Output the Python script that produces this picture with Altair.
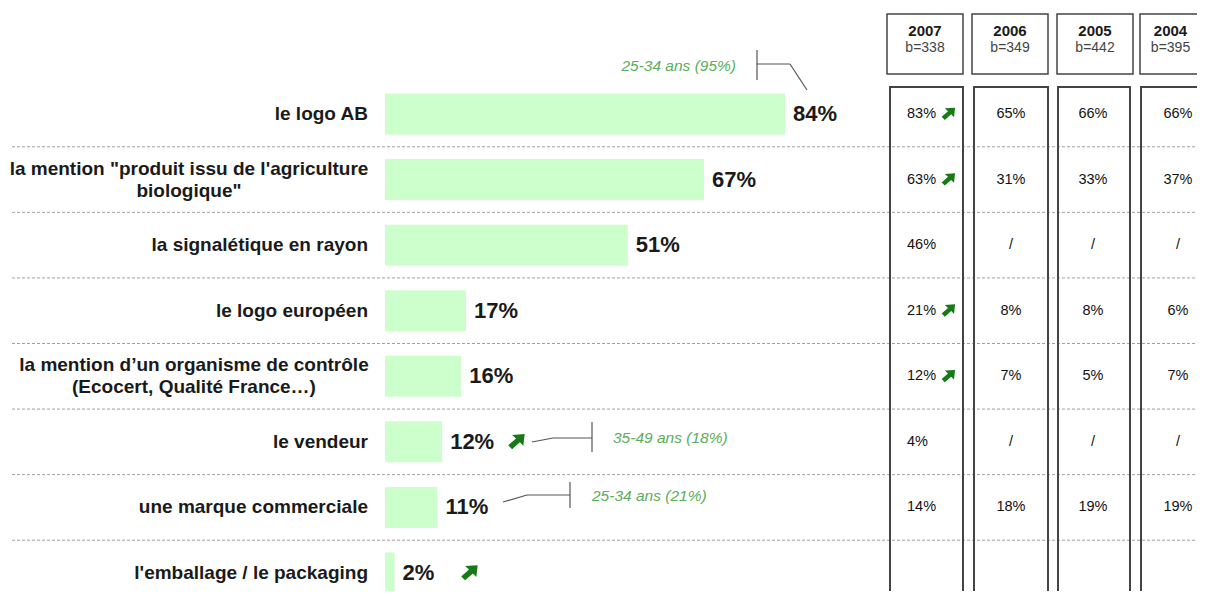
import altair as alt
import pandas as pd

# ---------------- data ----------------
categories = [
    "le logo AB",
    "la mention \"produit issu de l'agriculture\nbiologique\"",
    "la signalétique en rayon",
    "le logo européen",
    "la mention d\u2019un organisme de contrôle\n(Ecocert, Qualité France\u2026)",
    "le vendeur",
    "une marque commerciale",
    "l'emballage / le packaging",
]
values = [84, 67, 51, 17, 16, 12, 11, 2]
left_trend_rows = [5, 7]

years = ["2007", "2006", "2005", "2004"]
bases = ["b=338", "b=349", "b=442", "b=395"]
col_2007 = ["83%", "63%", "46%", "21%", "12%", "4%", "14%", ""]
col_2006 = ["65%", "31%", "/", "8%", "7%", "/", "18%", ""]
col_2005 = ["66%", "33%", "/", "8%", "5%", "/", "19%", ""]
col_2004 = ["66%", "37%", "/", "6%", "7%", "/", "19%", ""]
table_cols = [col_2007, col_2006, col_2005, col_2004]
table_trend_rows = [0, 1, 3, 4]

ann_rows = [0, 5, 6]
ann_texts = ["25-34 ans (95%)", "35-49 ans (18%)", "25-34 ans (21%)"]

# ---------------- layout (page pixels) ----------------
W, H = 1189, 583
X0 = 377            # plot px of 0 %
PPU = 400 / 84      # px per percent
Y0 = 106            # plot px of first row centre
RPU = 65.57         # px per row

def ux(px):
    return (px - 8 - X0) / PPU

def uy(py):
    return (py - 8 - Y0) / RPU

xs = alt.Scale(domain=[-X0 / PPU, (W - X0) / PPU], nice=False, zero=False)
ys = alt.Scale(domain=[-Y0 / RPU, (H - Y0) / RPU], nice=False, zero=False, reverse=True)

def X(f):
    return alt.X(f, type="quantitative", scale=xs, axis=None)

def Y(f):
    return alt.Y(f, type="quantitative", scale=ys, axis=None)

FONT = "Liberation Sans"
ARROW = "M1,-0.9 L0.85,0.45 L0.45,0.05 L-0.45,0.85 L-0.9,0.4 L0.0,-0.4 L-0.45,-0.8 Z"
ARROW_COLOR = "#177a17"
ANN_COLOR = "#5aad5a"
LINE_COLOR = "#555555"

n = len(categories)
bars = pd.DataFrame({
    "row": list(range(n)),
    "zero": [0] * n,
    "value": values,
    "label": [f"{v}%" for v in values],
    "y1": [i - 0.3127 for i in range(n)],
    "y2": [i + 0.3127 for i in range(n)],
})

single = pd.DataFrame({
    "row": [i for i, c in enumerate(categories) if "\n" not in c],
    "text": [c for c in categories if "\n" not in c],
})
single["x"] = 0
multi_centres = {1: 189, 4: 194}
multi = pd.DataFrame({
    "row": list(multi_centres.keys()),
    "text": [categories[i] for i in multi_centres],
    "x": [ux(p) for p in multi_centres.values()],
})

seps = pd.DataFrame({"y": [i + 0.5 for i in range(n - 1)]})
seps["x"] = ux(12)
seps["x2"] = ux(1216)

left_arrows = pd.DataFrame({"row": left_trend_rows, "x": [ux(516), ux(469)]})

# annotation connectors (page pixel segments)
segs_px = [
    (757, 50, 757, 80), (757, 64, 790, 64), (790, 64, 807, 90),
    (532, 442, 553, 438), (553, 438, 592, 438), (592, 422, 592, 452),
    (503, 502, 527, 495), (527, 495, 570, 495), (570, 482, 570, 508),
]
segs = pd.DataFrame({
    "x": [ux(a) for a, b, c, d in segs_px],
    "y": [uy(b) for a, b, c, d in segs_px],
    "x2": [ux(c) for a, b, c, d in segs_px],
    "y2": [uy(d) for a, b, c, d in segs_px],
})
ann = pd.DataFrame({
    "text": ann_texts,
    "x": [ux(736), ux(613), ux(592)],
    "y": [uy(66), uy(438), uy(496)],
    "align": ["right", "left", "left"],
})

head_l = [887, 972, 1057, 1140]
head_r = [963, 1048, 1133, 1216]
body_l = [890, 974, 1058, 1141]
body_r = [963, 1048, 1130, 1216]
heads = pd.DataFrame({
    "x": [ux(p) for p in head_l], "x2": [ux(p) for p in head_r],
    "y": [uy(14)] * 4, "y2": [uy(74)] * 4,
    "year": years, "base": bases,
    "xc": [ux((a + b) / 2) for a, b in zip(head_l, [963, 1048, 1133, 1201])],
    "yy": [uy(31)] * 4, "yb": [uy(48)] * 4,
})
bodies = pd.DataFrame({
    "x": [ux(p) for p in body_l], "x2": [ux(p) for p in body_r],
    "y": [uy(87)] * 4, "y2": [uy(620)] * 4,
})

col_centres = [907, 1011, 1093, 1178]
cells = []
for ci, col in enumerate(table_cols):
    for ri, t in enumerate(col):
        if t:
            cells.append({"x": ux(col_centres[ci]), "row": ri, "text": t,
                          "align": "left" if ci == 0 else "center"})
cells = pd.DataFrame(cells)
table_arrows = pd.DataFrame({"row": table_trend_rows, "x": [ux(948)] * len(table_trend_rows)})

# ---------------- layers ----------------
sep_layer = alt.Chart(seps).mark_rule(color="#a0a0a0", strokeDash=[3, 2], strokeWidth=1, clip=True).encode(
    x=X("x"), x2="x2", y=Y("y"))

bar_layer = alt.Chart(bars).mark_rect(color="#ccffcc").encode(
    x=X("zero"), x2="value", y=Y("y1"), y2="y2")

val_layer = alt.Chart(bars).mark_text(align="left", baseline="middle", dx=8, fontSize=22,
                                      fontWeight="bold", font=FONT, color="#1a1a1a").encode(
    x=X("value"), y=Y("row"), text="label")

lab_single = alt.Chart(single).mark_text(align="right", baseline="middle", dx=-17, fontSize=19,
                                         fontWeight="bold", font=FONT, color="#1a1a1a").encode(
    x=X("x"), y=Y("row"), text="text")

lab_multi = alt.Chart(multi).mark_text(align="center", baseline="middle", fontSize=19, lineBreak="\n",
                                       lineHeight=22, dy=-11, fontWeight="bold", font=FONT,
                                       color="#1a1a1a").encode(
    x=X("x"), y=Y("row"), text="text")

larrow_layer = alt.Chart(left_arrows).mark_point(shape=ARROW, filled=True, size=300, opacity=1,
                                                  color=ARROW_COLOR, strokeWidth=0).encode(
    x=X("x"), y=Y("row"))

seg_layer = alt.Chart(segs).mark_rule(color=LINE_COLOR, strokeWidth=1.2).encode(
    x=X("x"), y=Y("y"), x2="x2", y2="y2")

ann_r = alt.Chart(ann[ann["align"] == "right"]).mark_text(align="right", baseline="middle", fontSize=15.5,
                                                          fontStyle="italic", font=FONT, color=ANN_COLOR).encode(
    x=X("x"), y=Y("y"), text="text")
ann_l = alt.Chart(ann[ann["align"] == "left"]).mark_text(align="left", baseline="middle", fontSize=15.5,
                                                         fontStyle="italic", font=FONT, color=ANN_COLOR).encode(
    x=X("x"), y=Y("y"), text="text")

head_box = alt.Chart(heads).mark_rect(fillOpacity=0, stroke="#444444", strokeWidth=1.5, clip=True).encode(
    x=X("x"), x2="x2", y=Y("y"), y2="y2")
head_year = alt.Chart(heads).mark_text(align="center", baseline="middle", fontSize=15, fontWeight="bold",
                                       font=FONT, color="#1a1a1a", clip=True).encode(
    x=X("xc"), y=Y("yy"), text="year")
head_base = alt.Chart(heads).mark_text(align="center", baseline="middle", fontSize=14,
                                       font=FONT, color="#444444", clip=True).encode(
    x=X("xc"), y=Y("yb"), text="base")

body_box = alt.Chart(bodies).mark_rect(fillOpacity=0, stroke="#444444", strokeWidth=2, clip=True).encode(
    x=X("x"), x2="x2", y=Y("y"), y2="y2")

cell_l = alt.Chart(cells[cells["align"] == "left"]).mark_text(align="left", baseline="middle", fontSize=14.5,
                                                              font=FONT, color="#111111").encode(
    x=X("x"), y=Y("row"), text="text")
cell_c = alt.Chart(cells[cells["align"] == "center"]).mark_text(align="center", baseline="middle", fontSize=14.5,
                                                                font=FONT, color="#111111").encode(
    x=X("x"), y=Y("row"), text="text")

tarrow_layer = alt.Chart(table_arrows).mark_point(shape=ARROW, filled=True, size=200, opacity=1,
                                                   color=ARROW_COLOR, strokeWidth=0).encode(
    x=X("x"), y=Y("row"))

chart = alt.layer(
    sep_layer, bar_layer, val_layer, lab_single, lab_multi, larrow_layer,
    seg_layer, ann_r, ann_l, head_box, head_year, head_base, body_box,
    cell_l, cell_c, tarrow_layer,
).properties(
    width=W, height=H, padding=0, autosize=alt.AutoSizeParams(type="none"),
    background="white",
).configure_view(stroke=None)

chart.save("out.html", embed_options={"renderer": "svg", "actions": False})
